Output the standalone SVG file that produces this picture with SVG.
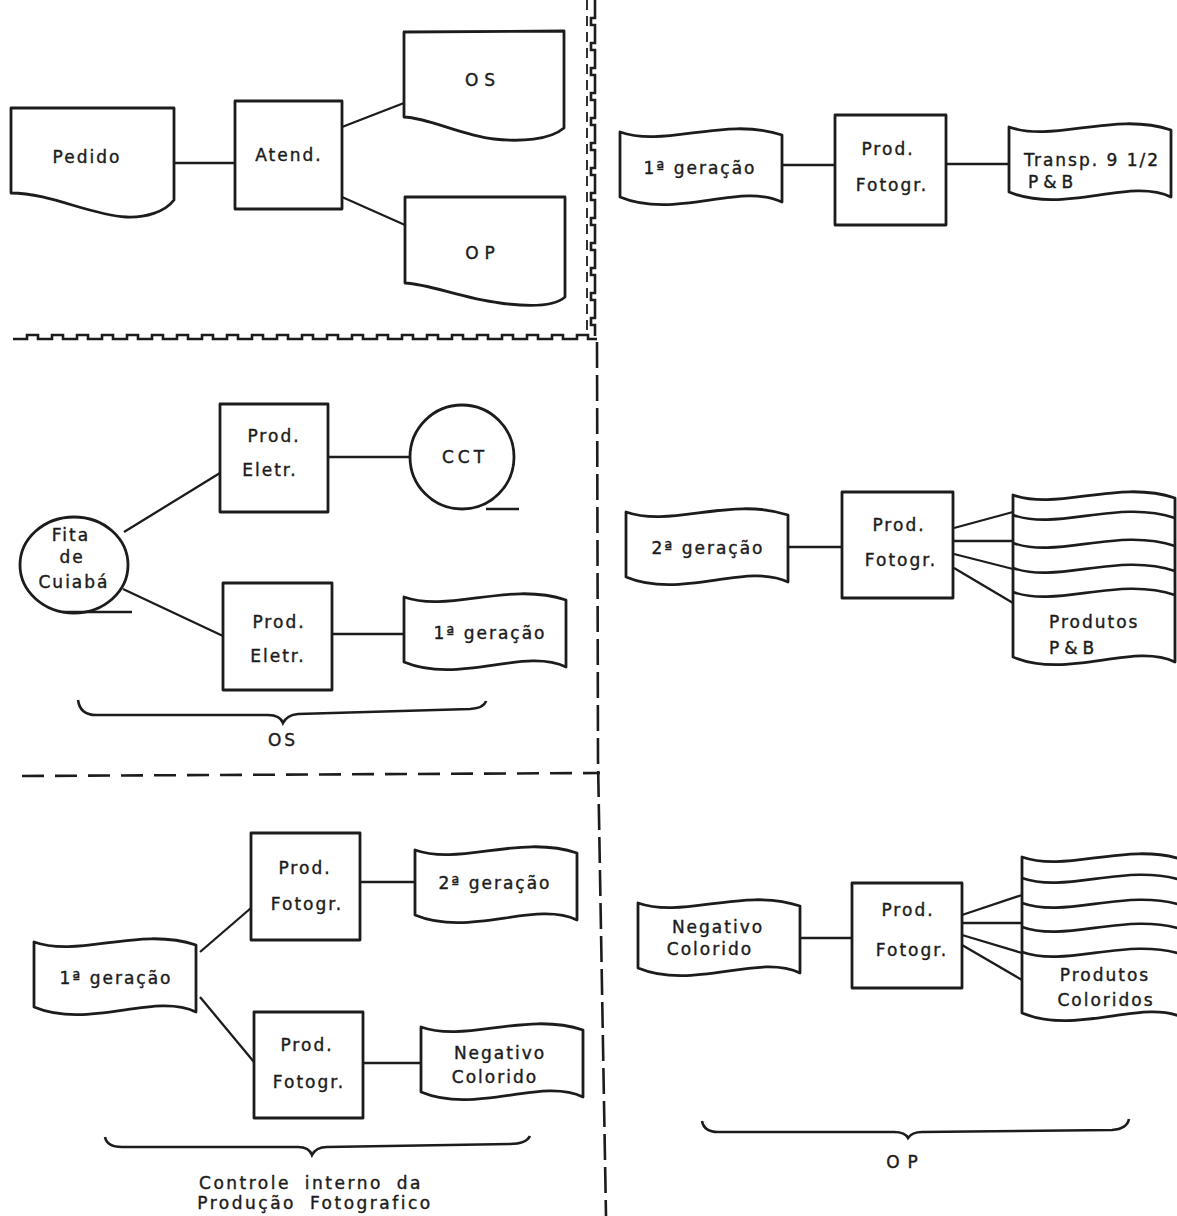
<svg xmlns="http://www.w3.org/2000/svg" xmlns:xlink="http://www.w3.org/1999/xlink" width="1177" height="1216" viewBox="0 0 1177 1216">
<style>
.s{fill:#fff;stroke:#1c1c1c;stroke-width:2.8;stroke-linejoin:round}
.w{fill:none;stroke:#1c1c1c;stroke-width:2.6}
.c{fill:none;stroke:#1c1c1c;stroke-width:2.3}
.sep{fill:none;stroke:#1c1c1c;stroke-width:2.6}
text{font-family:"DejaVu Sans","Liberation Sans",sans-serif;font-size:17px;fill:#1c1c1c;stroke:#1c1c1c;stroke-width:0.4;letter-spacing:2px;text-anchor:middle}
.l{text-anchor:start}
</style>
<defs>
<path id="tape" d="M0,0 C45,16 105,-16 162,3 L162,70 C120,50 55,88 0,65 Z"/>
</defs>
<rect width="1177" height="1216" fill="#fff"/>

<g id="separators">
<path class="sep" d="M595,0 v18h-4v7h4 v18h-4v7h4 v18h-4v7h4 v18h-4v7h4 v18h-4v7h4 v18h-4v7h4 v18h-4v7h4 v18h-4v7h4 v18h-4v7h4 v18h-4v7h4 v18h-4v7h4 v18h-4v7h4 v18h-4v7h4 v11"/>
<path d="M587,0 L587,332" fill="none" stroke="#1c1c1c" stroke-width="1.8" stroke-dasharray="10 6"/>
<path class="sep" d="M13,339 h14v-4h11v4 h14v-4h11v4 h14v-4h11v4 h14v-4h11v4 h14v-4h11v4 h14v-4h11v4 h14v-4h11v4 h14v-4h11v4 h14v-4h11v4 h14v-4h11v4 h14v-4h11v4 h14v-4h11v4 h14v-4h11v4 h14v-4h11v4 h14v-4h11v4 h14v-4h11v4 h14v-4h11v4 h14v-4h11v4 h14v-4h11v4 h14v-4h11v4 h14v-4h11v4 h14v-4h11v4 h14v-4h11v4 h9"/>
<path class="sep" d="M597,342 L598,760 L606,1216" stroke-dasharray="26 7"/>
<path class="sep" d="M22,776 L600,773" stroke-dasharray="22 11"/>
</g>

<g id="connectors">
<path class="c" d="M174,163 L235,163"/>
<path class="c" d="M342,127 L404,103"/>
<path class="c" d="M342,197 L405,225"/>
<path class="c" d="M781,165 L835,165"/>
<path class="c" d="M946,164 L1009,164"/>
<path class="c" d="M124,532 L220,473"/>
<path class="c" d="M123,589 L223,636"/>
<path class="c" d="M328,457 L410,457"/>
<path class="c" d="M332,634 L404,634"/>
<path class="c" d="M788,547 L842,547"/>
<path class="c" d="M954,528 L1013,512"/>
<path class="c" d="M954,541 L1013,541"/>
<path class="c" d="M954,554 L1013,569"/>
<path class="c" d="M954,568 L1013,603"/>
<path class="c" d="M200,952 L251,908"/>
<path class="c" d="M200,997 L254,1062"/>
<path class="c" d="M360,882 L415,882"/>
<path class="c" d="M363,1063 L421,1063"/>
<path class="c" d="M800,938 L852,938"/>
<path class="c" d="M962,915 L1022,895"/>
<path class="c" d="M962,923 L1022,923"/>
<path class="c" d="M962,935 L1022,953"/>
<path class="c" d="M962,945 L1022,980"/>
</g>

<g id="pedido">
<path class="s" d="M11,108 L174,108 L174,200 C165,212 145,218 126,217 C90,215 50,193 11,193 Z"/>
<text x="87" y="163">Pedido</text>
</g>
<g id="atend">
<rect class="s" x="235" y="101" width="107" height="108"/>
<text x="289" y="161">Atend.</text>
</g>
<g id="os-doc">
<path class="s" d="M404,32 L564,31 L564,128 C550,140 520,142 494,139 C460,135 430,118 404,117 Z"/>
<text x="483" y="86" style="letter-spacing:6px">OS</text>
</g>
<g id="op-doc">
<path class="s" d="M405,197 L565,197 L565,297 C555,306 530,307 500,303 C460,298 430,284 405,283 Z"/>
<text x="483" y="259" style="letter-spacing:6px">OP</text>
</g>

<g id="geracao1-top">
<use href="#tape" class="s" transform="translate(620,132)"/>
<text x="700" y="174">1ª geração</text>
</g>
<g id="prod-fotogr-top">
<rect class="s" x="835" y="115" width="111" height="110"/>
<text x="888" y="155">Prod.</text>
<text x="892" y="191">Fotogr.</text>
</g>
<g id="transp">
<use href="#tape" class="s" transform="translate(1009,127)"/>
<text class="l" x="1024" y="166">Transp. 9 1/2</text>
<text class="l" x="1028" y="188" style="letter-spacing:5px">P&amp;B</text>
</g>

<g id="fita">
<ellipse class="s" cx="74" cy="565" rx="54" ry="48"/>
<path class="w" d="M63,612 L132,612"/>
<text x="71" y="541">Fita</text>
<text x="72" y="563">de</text>
<text x="74" y="588">Cuiabá</text>
</g>
<g id="prod-eletr-1">
<rect class="s" x="220" y="404" width="108" height="108"/>
<text x="274" y="442">Prod.</text>
<text x="270" y="476">Eletr.</text>
</g>
<g id="cct">
<circle class="s" cx="462" cy="457" r="52"/>
<path class="w" d="M486,509 L519,509"/>
<text x="465" y="463" style="letter-spacing:4px">CCT</text>
</g>
<g id="prod-eletr-2">
<rect class="s" x="223" y="583" width="109" height="107"/>
<text x="279" y="628">Prod.</text>
<text x="278" y="662">Eletr.</text>
</g>
<g id="geracao1-mid">
<use href="#tape" class="s" transform="translate(404,597)"/>
<text x="490" y="639">1ª geração</text>
</g>
<g id="brace-os">
<path class="w" d="M78,700 Q80,715 96,715 L268,715 Q280,715 283,723 Q287,715 298,714 L470,709 Q484,708 486,701"/>
<text x="283" y="746" style="letter-spacing:3px">OS</text>
</g>

<g id="geracao2-mid">
<use href="#tape" class="s" transform="translate(626,512)"/>
<text x="708" y="554">2ª geração</text>
</g>
<g id="prod-fotogr-mid">
<rect class="s" x="842" y="492" width="111" height="106"/>
<text x="899" y="531">Prod.</text>
<text x="901" y="566">Fotogr.</text>
</g>
<g id="produtos-pb">
<g transform="translate(1013,495)">
<path class="s" d="M0,0 C45,16 105,-16 162,3 L162,167 C120,147 55,185 0,162 Z"/>
<path class="w" d="M0,20 C45,36 105,4 162,23"/>
<path class="w" d="M0,48 C45,64 105,32 162,51"/>
<path class="w" d="M0,73 C45,89 105,57 162,76"/>
<path class="w" d="M0,97 C45,113 105,81 162,100"/>
</g>
<text class="l" x="1049" y="628">Produtos</text>
<text class="l" x="1049" y="654" style="letter-spacing:5px">P&amp;B</text>
</g>

<g id="geracao1-bottom">
<use href="#tape" class="s" transform="translate(34,942)"/>
<text x="116" y="984">1ª geração</text>
</g>
<g id="prod-fotogr-bl1">
<rect class="s" x="251" y="833" width="109" height="107"/>
<text x="305" y="874">Prod.</text>
<text x="307" y="910">Fotogr.</text>
</g>
<g id="geracao2-bottom">
<use href="#tape" class="s" transform="translate(415,850)"/>
<text x="495" y="889">2ª geração</text>
</g>
<g id="prod-fotogr-bl2">
<rect class="s" x="254" y="1012" width="109" height="106"/>
<text x="307" y="1051">Prod.</text>
<text x="309" y="1088">Fotogr.</text>
</g>
<g id="negativo-left">
<use href="#tape" class="s" transform="translate(421,1027)"/>
<text x="500" y="1059">Negativo</text>
<text x="495" y="1083">Colorido</text>
</g>
<g id="brace-controle">
<path class="w" d="M105,1137 Q107,1147 122,1147 L298,1147 Q309,1147 312,1155 Q316,1147 327,1147 L510,1144 Q526,1144 530,1136"/>
<text x="311" y="1189" style="letter-spacing:2.5px;word-spacing:6px">Controle interno da</text>
<text x="315" y="1209" style="letter-spacing:2.5px;word-spacing:6px">Produção Fotografico</text>
</g>

<g id="negativo-right">
<use href="#tape" class="s" transform="translate(638,903)"/>
<text x="718" y="933">Negativo</text>
<text x="710" y="955">Colorido</text>
</g>
<g id="prod-fotogr-br">
<rect class="s" x="852" y="883" width="110" height="105"/>
<text x="908" y="916">Prod.</text>
<text x="912" y="956">Fotogr.</text>
</g>
<g id="produtos-coloridos">
<g transform="translate(1022,857)">
<path class="s" d="M0,0 C45,16 105,-16 162,3 L162,161 C120,141 55,179 0,156 Z"/>
<path class="w" d="M0,21 C45,37 105,5 162,24"/>
<path class="w" d="M0,46 C45,62 105,30 162,49"/>
<path class="w" d="M0,70 C45,86 105,54 162,73"/>
<path class="w" d="M0,95 C45,111 105,79 162,98"/>
</g>
<text x="1105" y="981">Produtos</text>
<text x="1106" y="1006">Coloridos</text>
</g>
<g id="brace-op">
<path class="w" d="M702,1121 Q704,1132 718,1132 L894,1132 Q905,1132 908,1138 Q912,1132 922,1132 L1112,1130 Q1127,1129 1129,1119"/>
<text x="906" y="1168" style="letter-spacing:8px">OP</text>
</g>
</svg>
